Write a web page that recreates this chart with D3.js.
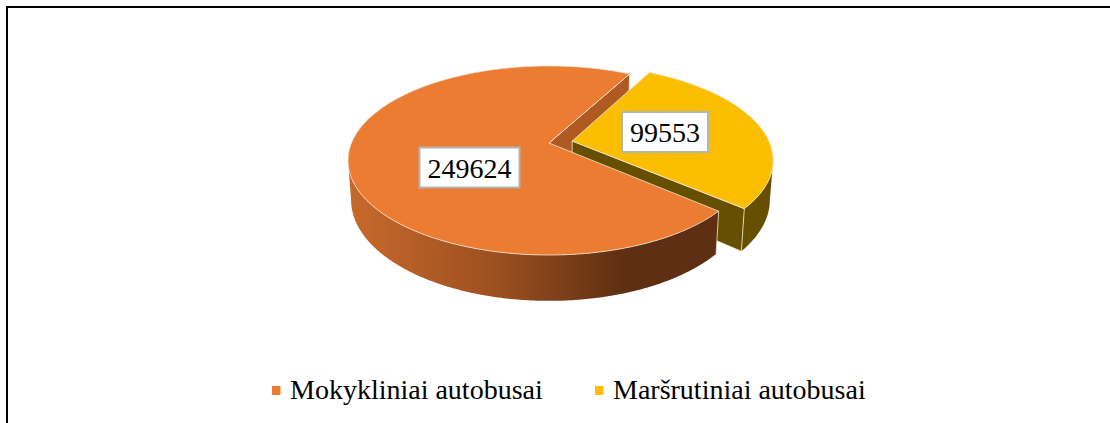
<!DOCTYPE html>
<html>
<head>
<meta charset="utf-8">
<script src="https://cdnjs.cloudflare.com/ajax/libs/d3/7.8.5/d3.min.js"></script>
<style>html,body{margin:0;padding:0;background:#fff;overflow:hidden}svg{display:block}</style>
</head>
<body>
<svg id="chart" width="1110" height="423"></svg>
<script>
const categories = ["Mokykliniai autobusai", "Maršrutiniai autobusai"];
const values = [249624, 99553];
const explode = [0, 0.12];
const topColors = ["#EB7C31", "#FBBE00"];
const W = 1110, H = 423;
const svg = d3.select("#chart");

// pie layout: first slice begins at the angle
const firstAngle = 131 * Math.PI / 180;
const pie = d3.pie().sort(null).value(d => d)
  .startAngle(firstAngle).endAngle(firstAngle + 2 * Math.PI);
const slices = pie(values);

// perspective disc → screen
const pivot = {x: 549, y: 143}, Rx = 197.5, Ry = 91.3, k = 0.185;
function proj(u, v, low) {
  const w = 1 - k * v;
  const dx = Rx * u / w, dy = Ry * v / w;
  return low ? [pivot.x + 0.985 * dx, pivot.y + 38 + 1.07 * dy]
             : [pivot.x + dx, pivot.y + dy];
}
const centerOf = (s, i) => {
  const m = (s.startAngle + s.endAngle) / 2;
  return [explode[i] * Math.sin(m), -explode[i] * Math.cos(m)];
};
function rim(s, i, a0, a1, low) {
  const c = centerOf(s, i), n = Math.max(2, Math.ceil(Math.abs(a1 - a0) / 0.01));
  return d3.range(n + 1).map(j => {
    const a = a0 + (a1 - a0) * j / n;
    return proj(c[0] + Math.sin(a), c[1] - Math.cos(a), low);
  });
}
const line = d3.line();
const closed = pts => line(pts) + "Z";

const defs = svg.append("defs");
const grad = defs.append("linearGradient").attr("id", "wall")
  .attr("gradientUnits", "userSpaceOnUse")
  .attr("x1", 348).attr("x2", 716).attr("y1", 0).attr("y2", 0);
[[0, "#C8692B"], [0.4, "#9C5020"], [0.75, "#5E2F12"], [1, "#5E2F12"]].forEach(d =>
  grad.append("stop").attr("offset", d[0]).attr("stop-color", d[1]));

svg.append("rect").attr("width", W).attr("height", H).attr("fill", "#fff");

// chart frame: left and top sides only reach the picture
svg.append("path").attr("d", line([[7, H], [7, 7], [W, 7]]))
  .attr("fill", "none").attr("stroke", "#000").attr("stroke-width", 2);

const edge = "#F3E6DA";
const [sO, sY] = slices;
const g = svg.append("g").attr("stroke-linejoin", "round");
const face = (pts, fill, sw = 0.8) => g.append("path").attr("d", closed(pts))
  .attr("fill", fill).attr("stroke", sw ? edge : "none").attr("stroke-width", sw);

// side wall between the two rims, cut at the silhouette so it does not fold back
function wallPoints(top, low, cmp) {
  const cut = d3.leastIndex(top, (a, b) => cmp(a[0], b[0]));
  return [top.slice(0, cut + 1), low.slice(0, cut + 1)];
}

// orange end face (seen in the notch)
const oEnd = sO.endAngle;
face([proj(0, 0, false), rim(sO, 0, oEnd, oEnd, false)[0],
      rim(sO, 0, oEnd, oEnd, true)[0], proj(0, 0, true)], "#AE5A21");

// yellow walls
const yc = centerOf(sY, 1);
const yellowDark = "#665000";
const yStartA = sY.startAngle, yEndA = sY.endAngle;
const yRightmost = 2 * Math.PI + Math.PI / 2;
const [rimTop, rimLow] = wallPoints(rim(sY, 1, yEndA, yRightmost, false),
                                    rim(sY, 1, yEndA, yRightmost, true), d3.descending);
face([...rimTop, ...rimLow.slice().reverse()], yellowDark, 0);
face([proj(yc[0], yc[1], false), rimTop[0], rimLow[0], proj(yc[0], yc[1], true)], yellowDark);
// yellow top
face([proj(yc[0], yc[1], false), ...rim(sY, 1, yStartA, yEndA, false)], topColors[1]);

// orange outer wall, front half, and top
const oA0 = sO.startAngle, oA1 = 3 * Math.PI / 2;
const [wTop, wLow] = wallPoints(rim(sO, 0, oA0, oA1, false),
                                rim(sO, 0, oA0, oA1, true), d3.ascending);
face([...wTop, ...wLow.slice().reverse()], "url(#wall)", 0);
g.append("path").attr("d", line([wTop[0], wLow[0]])).attr("fill", "none")
  .attr("stroke", edge).attr("stroke-width", 0.8);
face([proj(0, 0, false), ...rim(sO, 0, sO.startAngle, sO.endAngle, false)], topColors[0]);

// data labels
const labelBoxes = [[469.5, 167.5, 100, 40], [665, 132, 86, 40]];
values.forEach((v, i) => {
  const b = labelBoxes[i];
  svg.append("rect").attr("x", b[0] - b[2] / 2).attr("y", b[1] - b[3] / 2)
    .attr("width", b[2]).attr("height", b[3]).attr("fill", "#fff")
    .attr("stroke", "#B4B4B4").attr("stroke-width", 2);
  svg.append("text").attr("x", b[0]).attr("y", b[1] + 10)
    .attr("text-anchor", "middle").attr("font-family", "'Liberation Serif'")
    .attr("font-size", 28).attr("fill", "#000").text(v);
});

// legend
const legendX = [290, 613];
categories.forEach((c, i) => {
  svg.append("rect").attr("x", legendX[i] - 18).attr("y", 386)
    .attr("width", 8.5).attr("height", 9).attr("fill", topColors[i]);
  svg.append("text").attr("x", legendX[i]).attr("y", 399)
    .attr("font-family", "'Liberation Serif'").attr("font-size", 28)
    .attr("fill", "#000").text(c);
});
</script>
</body>
</html>
